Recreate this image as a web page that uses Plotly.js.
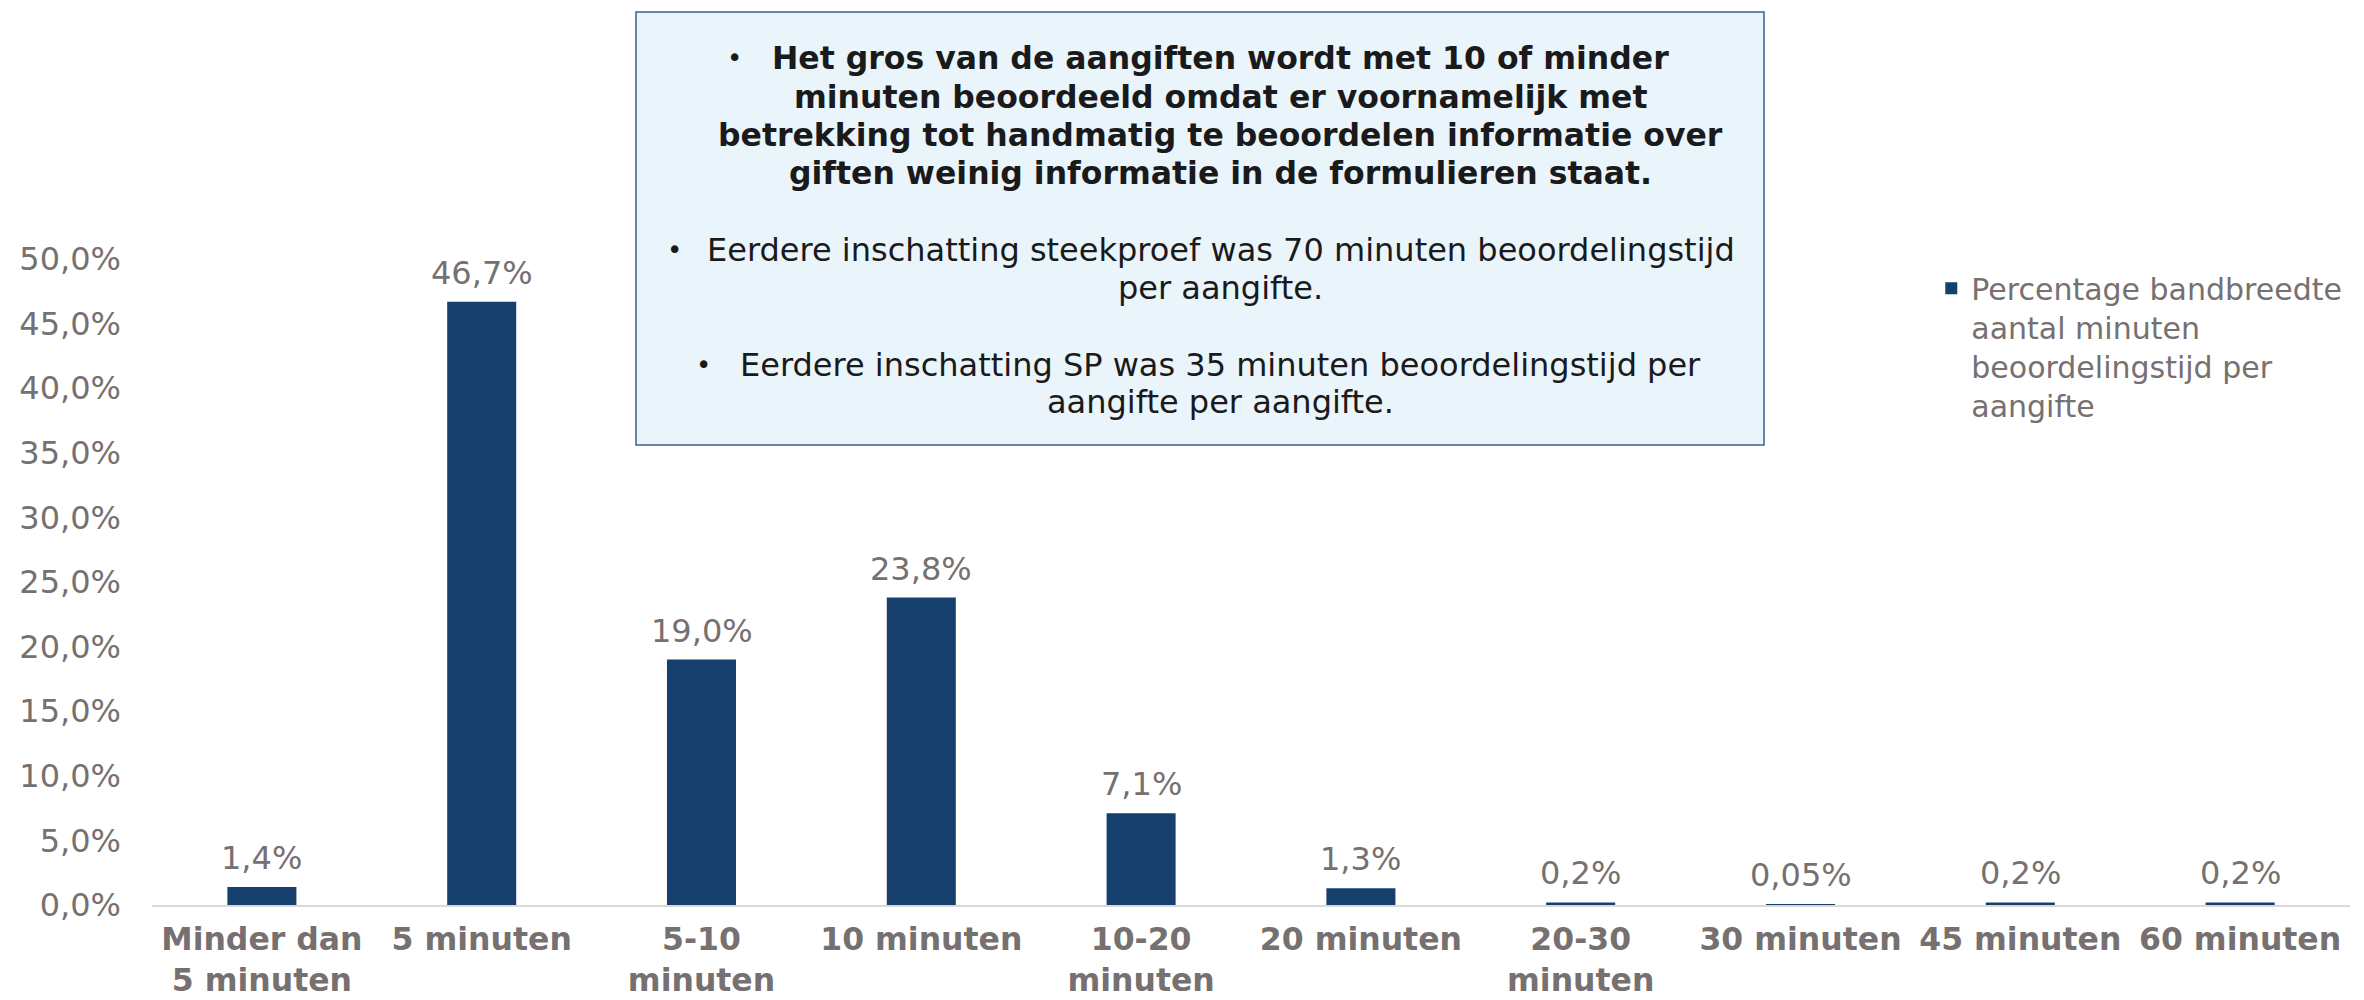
<!DOCTYPE html>
<html>
<head>
<meta charset="utf-8">
<script src="https://cdn.plot.ly/plotly-3.0.1.min.js"></script>
<style>
  html, body { margin: 0; padding: 0; background: #ffffff; }
  #chart { width: 2364px; height: 1000px; }
</style>
</head>
<body>
<div id="chart"></div>
<script>
const categories = ['Minder dan 5 minuten', '5 minuten', '5-10 minuten', '10 minuten', '10-20 minuten',
                    '20 minuten', '20-30 minuten', '30 minuten', '45 minuten', '60 minuten'];
const tickLabels = ['Minder dan<br>5 minuten', '5 minuten', '5-10<br>minuten', '10 minuten', '10-20<br>minuten',
                    '20 minuten', '20-30<br>minuten', '30 minuten', '45 minuten', '60 minuten'];
const values = [1.4, 46.7, 19.0, 23.8, 7.1, 1.3, 0.2, 0.05, 0.2, 0.2];
const valueLabels = ['1,4%', '46,7%', '19,0%', '23,8%', '7,1%', '1,3%', '0,2%', '0,05%', '0,2%', '0,2%'];
const yTickVals = [0, 5, 10, 15, 20, 25, 30, 35, 40, 45, 50];
const yTickText = ['0,0%', '5,0%', '10,0%', '15,0%', '20,0%', '25,0%', '30,0%', '35,0%', '40,0%', '45,0%', '50,0%'];
const seriesName = 'Percentage bandbreedte<br>aantal minuten<br>beoordelingstijd per<br>aangifte';
const boxLines = [
  'Het gros van de aangiften wordt met 10 of minder',
  'minuten beoordeeld omdat er voornamelijk met',
  'betrekking tot handmatig te beoordelen informatie over',
  'giften weinig informatie in de formulieren staat.',
  'Eerdere inschatting steekproef was 70 minuten beoordelingstijd',
  'per aangifte.',
  'Eerdere inschatting SP was 35 minuten beoordelingstijd per',
  'aangifte per aangifte.'
];
const boxLineBold = [true, true, true, true, false, false, false, false];

const FONT = 'DejaVu Sans, Verdana, sans-serif';
const GREY = '#767070';

const trace = {
  type: 'bar',
  x: categories,
  y: values,
  name: seriesName,
  marker: { color: '#173F6D' },
  hoverinfo: 'x+y'
};

// layout positions (paper coordinates) of the text-box lines and bullets
const lineY = [1.3111, 1.2508, 1.1920, 1.1331, 1.0139, 0.9551, 0.8359, 0.7786];
const bulletX = [0.2652, 0.2375, 0.2507];
const bulletY = [1.3111, 1.0139, 0.8359];

const dataLabels = categories.map((c, i) => ({
  xref: 'x', yref: 'y', x: c, y: values[i],
  xanchor: 'center', yanchor: 'bottom', yshift: 8,
  text: valueLabels[i], showarrow: false,
  font: { family: FONT, size: 32, color: GREY }
}));

const boxText = boxLines.map((t, i) => ({
  xref: 'paper', yref: 'paper', x: 0.4862, y: lineY[i],
  xanchor: 'center', yanchor: 'middle', align: 'center',
  text: boxLineBold[i] ? '<b>' + t + '</b>' : t, showarrow: false,
  font: { family: FONT, size: boxLineBold[i] ? 31.5 : 32, color: '#1a1a1a' }
}));

const bullets = bulletX.map((bx, i) => ({
  xref: 'paper', yref: 'paper', x: bx, y: bulletY[i],
  xanchor: 'center', yanchor: 'middle',
  text: '•', showarrow: false,
  font: { family: FONT, size: 26, color: '#1a1a1a' }
}));

const layout = {
  width: 2364, height: 1000,
  margin: { l: 152, r: 14, t: 259, b: 95 },
  paper_bgcolor: '#ffffff', plot_bgcolor: '#ffffff',
  bargap: 0.686,
  showlegend: true,
  legend: {
    x: 0.8095, y: 0.995, xanchor: 'left', yanchor: 'top',
    valign: 'top',
    font: { family: FONT, size: 30, color: GREY },
    bgcolor: 'rgba(0,0,0,0)'
  },
  xaxis: {
    type: 'category',
    tickvals: categories, ticktext: tickLabels,
    tickfont: { family: FONT, size: 31.5, color: GREY, weight: 'bold' },
    showgrid: false, zeroline: false,
    showline: true, linecolor: '#D9D9D9', linewidth: 2,
    ticks: '', ticklabelstandoff: 5, tickangle: 0
  },
  yaxis: {
    range: [0, 50],
    tickvals: yTickVals, ticktext: yTickText,
    tickfont: { family: FONT, size: 32, color: GREY },
    showgrid: false, zeroline: false, showline: false,
    ticks: '', ticklabelstandoff: 30
  },
  shapes: [{
    type: 'rect', xref: 'paper', yref: 'paper',
    x0: 0.2202, x1: 0.7334, y0: 0.7121, y1: 1.3824,
    fillcolor: '#EAF4FB', line: { color: '#3E5F87', width: 1.5 },
    layer: 'below'
  }],
  annotations: dataLabels.concat(boxText, bullets)
};

Plotly.newPlot('chart', [trace], layout, { displayModeBar: false, responsive: false });
</script>
</body>
</html>
